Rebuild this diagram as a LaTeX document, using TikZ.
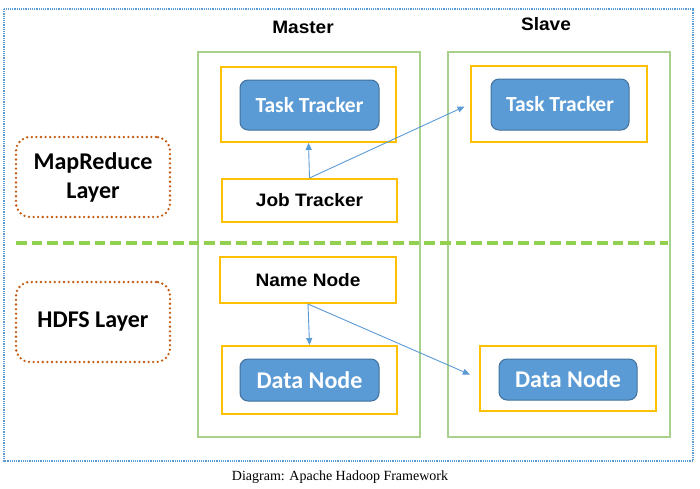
\documentclass[tikz,border=0pt]{standalone}
\usepackage{fontspec}
\setmainfont{Liberation Serif}
\newfontfamily\arialf[FakeStretch=1.06]{Liberation Sans}
\newfontfamily\calf{Carlito}
\usetikzlibrary{arrows.meta}
\definecolor{bluefill}{HTML}{5B9BD5}
\definecolor{blueline}{HTML}{41719C}
\definecolor{yel}{HTML}{FFC000}
\definecolor{grn}{HTML}{A9D18E}
\definecolor{grndash}{HTML}{92D050}
\definecolor{orng}{HTML}{C55A11}
\definecolor{frame}{HTML}{5B9BD5}
\tikzset{
  ybox/.style={draw=yel, line width=2pt, fill=white, inner sep=0pt},
  bbox/.style={draw=blueline, line width=1pt, fill=bluefill, rounded corners=8pt, inner sep=0pt, text=white, font=\calf\bfseries},
  gbox/.style={draw=grn, line width=1.3pt},
  layerbox/.style={draw=orng, line width=2.6pt, dash pattern=on 0pt off 4.6pt, line cap=round, rounded corners=14pt, inner sep=0pt, align=center, font=\calf\bfseries\fontsize{24}{29}\selectfont},
  arfont/.style={font=\arialf\bfseries\fontsize{18}{21}\selectfont},
  conn/.style={draw=bluefill, line width=0.9pt, -{Triangle[length=7pt,width=6pt]}},
}
\begin{document}
\begin{tikzpicture}[x=1pt,y=-1pt]
\useasboundingbox (0,0) rectangle (700,488);
\fill[white] (0,0) rectangle (700,488);
% outer frame
\draw[frame, line width=1.3pt, dash pattern=on 1.2pt off 1pt] (4,9) rectangle (693,461);
% master / slave containers
\draw[gbox] (198,52) rectangle (420,437);
\draw[gbox] (448,52) rectangle (670,437);
\node[arfont] (master) at (303,27) {Master};
\node[arfont] (slave) at (546,24) {Slave};
% layer separator
\draw[grndash, line width=3.7pt, dash pattern=on 10.7pt off 5pt] (16,243) -- (668,243);
% layers
\node[layerbox, minimum width=154pt, minimum height=80pt] (mr) at (93,177) {MapReduce\\Layer};
\node[layerbox, minimum width=154pt, minimum height=80pt] (hdfs) at (93,322) {HDFS Layer};
% master task tracker
\node[ybox, minimum width=175pt, minimum height=75pt] (mtt) at (308.5,104.5) {};
\node[bbox, minimum width=139pt, minimum height=50pt, font=\calf\bfseries\fontsize{21.5}{24}\selectfont] (mttb) at (309.5,105) {Task Tracker};
% slave task tracker
\node[ybox, minimum width=176pt, minimum height=76pt] (stt) at (559,104) {};
\node[bbox, minimum width=138pt, minimum height=51pt, font=\calf\bfseries\fontsize{21.5}{24}\selectfont] (sttb) at (560,104.5) {Task Tracker};
% job tracker
\node[ybox, minimum width=175pt, minimum height=43pt, arfont] (jt) at (309.5,200.5) {Job Tracker};
% name node
\node[ybox, minimum width=176pt, minimum height=46pt, arfont] (nn) at (308,280) {Name Node};
% master data node
\node[ybox, minimum width=175pt, minimum height=68pt] (mdn) at (309.5,380) {};
\node[bbox, minimum width=139pt, minimum height=42pt, font=\calf\bfseries\fontsize{24}{26}\selectfont] (mdnb) at (309.5,380) {Data Node};
% slave data node
\node[ybox, minimum width=176pt, minimum height=65pt] (sdn) at (568,378.5) {};
\node[bbox, minimum width=138pt, minimum height=41pt, font=\calf\bfseries\fontsize{24}{26}\selectfont] (sdnb) at (568,379.5) {Data Node};
% connectors
\draw[conn] (jt.north) -- (mtt.south);
\draw[conn, shorten >=6pt] (jt.north) -- (stt.west);
\draw[conn] (nn.south) -- (mdn.north);
\draw[conn, shorten >=10pt] (nn.south) -- (sdn.west);
% caption
\node[font=\fontsize{14}{16}\selectfont] (cap) at (340,477) {Diagram: Apache Hadoop Framework};
\end{tikzpicture}
\end{document}
